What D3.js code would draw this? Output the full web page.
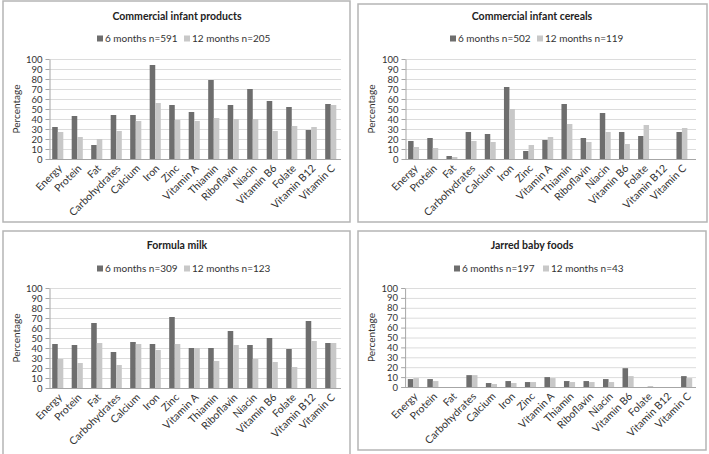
<!DOCTYPE html>
<html>
<head>
<meta charset="utf-8">
<script src="https://cdn.jsdelivr.net/npm/d3@7"></script>
<style>
  html, body { margin: 0; padding: 0; background: #fff; }
  svg { display: block; font-family: Lato, "Open Sans", sans-serif; }
</style>
</head>
<body>
<svg id="chart" width="709" height="454"></svg>
<script>
const categories = ["Energy","Protein","Fat","Carbohydrates","Calcium","Iron","Zinc","Vitamin A","Thiamin","Riboflavin","Niacin","Vitamin B6","Folate","Vitamin B12","Vitamin C"];
const yTicks = [0,10,20,30,40,50,60,70,80,90,100];

const titles = ["Commercial infant products","Commercial infant cereals","Formula milk","Jarred baby foods"];
const legend6 = ["6 months n=591","6 months n=502","6 months n=309","6 months n=197"];
const legend12 = ["12 months n=205","12 months n=119","12 months n=123","12 months n=43"];

const products6  = [32,43,14,44,44,94,54,47,79,54,70,58,52,29,55];
const products12 = [27,22,20,28,38,56,39,38,41,40,40,28,33,32,54];
const cereals6   = [18,21,3,27,25,72,8,19,55,21,46,27,23,0,27];
const cereals12  = [12,11,2,18,17,50,14,22,35,17,27,15,34,0,31];
const formula6   = [44,43,65,36,46,44,71,40,40,57,43,50,39,67,45];
const formula12  = [29,25,45,23,44,38,44,40,27,43,29,26,21,47,45];
const jarred6    = [8,8,0,12,4,6,5,10,6,6,8,19,0,0,11];
const jarred12   = [9,6,0,12,3,4,5,9,5,5,5,11,1,0,9];

const series6 = [products6, cereals6, formula6, jarred6];
const series12 = [products12, cereals12, formula12, jarred12];

// layout per panel
const panels = [
  {bx:3, by:1, bw:347, bh:221, x0:48, x1:340.5, gridEnd:341, yTop:59, yBot:159, cx:177, titleY:20, legY:42, leg1:97, leg2:184},
  {bx:358, by:4, bw:349, bh:218, x0:404, x1:691.5, gridEnd:696, yTop:59, yBot:159, cx:532, titleY:20, legY:42, leg1:450, leg2:537},
  {bx:3, by:231, bw:347, bh:224, x0:48, x1:340.5, gridEnd:341, yTop:288, yBot:388, cx:177, titleY:249, legY:272, leg1:97, leg2:184},
  {bx:358, by:231, bw:348, bh:219, x0:403.6, x1:696.4, gridEnd:696, yTop:288, yBot:387, cx:532, titleY:249, legY:272, leg1:454, leg2:543}
];

const dark = "#6e6e6e", light = "#c8c8c8";
const svg = d3.select("#chart");

panels.forEach((p, i) => {
  const g = svg.append("g");
  g.append("rect").attr("x", p.bx).attr("y", p.by).attr("width", p.bw).attr("height", p.bh)
    .attr("fill", "#fff").attr("stroke", "#b5b5b5").attr("stroke-width", 1.5);

  g.append("text").attr("x", p.cx).attr("y", p.titleY).attr("text-anchor", "middle")
    .attr("font-size", 10.5).attr("font-weight", "bold").attr("fill", "#222").text(titles[i]);

  // legend
  const lg = [[p.leg1, dark, legend6[i]], [p.leg2, light, legend12[i]]];
  lg.forEach(([lx, col, txt]) => {
    g.append("rect").attr("x", lx).attr("y", p.legY - 6.5).attr("width", 6).attr("height", 6).attr("fill", col);
    g.append("text").attr("x", lx + 8).attr("y", p.legY).attr("font-size", 10).attr("fill", "#333").text(txt);
  });

  const x = d3.scaleBand().domain(categories).range([p.x0, p.x1]).paddingInner(0.43).paddingOuter(0.215);
  const y = d3.scaleLinear().domain([0, 100]).range([p.yBot, p.yTop]);
  const sub = d3.scaleBand().domain(["6","12"]).range([0, x.bandwidth()]);

  // gridlines
  g.append("g").selectAll("line").data(yTicks.filter(t => t > 0)).join("line")
    .attr("x1", p.x0 + 1).attr("x2", p.gridEnd)
    .attr("y1", d => y(d) + 0.5).attr("y2", d => y(d) + 0.5)
    .attr("stroke", "#dcdcdc").attr("stroke-width", 1);

  // y axis
  const ya = g.append("g").attr("transform", `translate(${p.x0 + 1.5},0)`)
    .call(d3.axisLeft(y).tickValues(yTicks).tickSize(4).tickSizeOuter(0).tickPadding(3));
  ya.select(".domain").attr("stroke", "#a6a6a6");
  ya.selectAll(".tick line").attr("stroke", "#a6a6a6");
  ya.selectAll(".tick text").attr("font-size", 9.5).attr("fill", "#333").attr("font-family", "Lato, sans-serif");

  g.append("text").attr("transform", `translate(${p.bx + 17},${(p.yTop + p.yBot) / 2}) rotate(-90)`)
    .attr("text-anchor", "middle").attr("font-size", 10).attr("fill", "#333").text("Percentage");

  // bars
  const bars = g.append("g");
  categories.forEach((c, k) => {
    [["6", series6[i][k], dark], ["12", series12[i][k], light]].forEach(([key, v, col]) => {
      bars.append("rect").attr("x", x(c) + sub(key)).attr("width", sub.bandwidth())
        .attr("y", y(v)).attr("height", y(0) - y(v)).attr("fill", col);
    });
  });

  // baseline
  g.append("line").attr("x1", p.x0 + 1).attr("x2", p.gridEnd).attr("y1", p.yBot + 0.5).attr("y2", p.yBot + 0.5)
    .attr("stroke", "#a6a6a6");

  // x labels
  g.append("g").selectAll("text").data(categories).join("text")
    .attr("transform", d => `translate(${x(d) + x.bandwidth() / 2 + 5},${p.yBot + 10}) rotate(-45)`)
    .attr("text-anchor", "end").attr("font-size", 10.5).attr("fill", "#333").text(d => d);
});
</script>
</body>
</html>
